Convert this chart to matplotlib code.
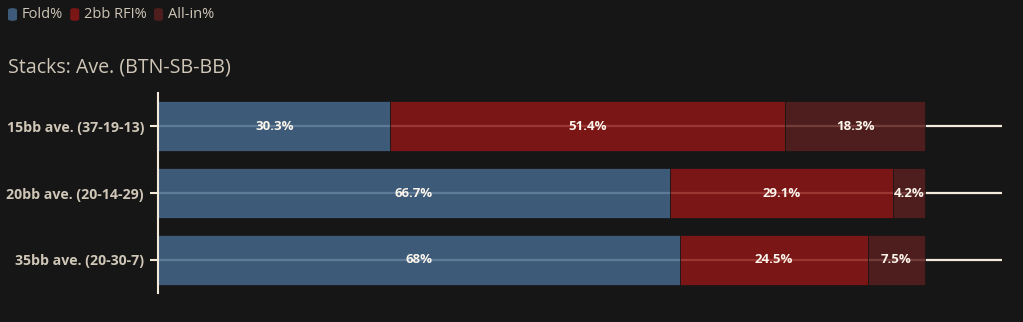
import matplotlib
matplotlib.use("Agg")
import matplotlib.pyplot as plt
from matplotlib.patches import FancyBboxPatch
import numpy as np

# Data
categories = ["15bb ave. (37-19-13)", "20bb ave. (20-14-29)", "35bb ave. (20-30-7)"]
series_names = ["Fold%", "2bb RFI%", "All-in%"]
fold = [30.3, 66.7, 68]
rfi = [51.4, 29.1, 24.5]
allin = [18.3, 4.2, 7.5]
title = "Stacks: Ave. (BTN-SB-BB)"

BG = "#161616"
CREAM = "#f3eadb"
TEXT = "#cfc6b7"
colors = ["#45678a", "#8c1616", "#591f1f"]
BAR_ALPHA = 0.85

plt.rcParams["font.family"] = ["Open Sans", "DejaVu Sans"]

fig = plt.figure(figsize=(10.23, 3.22), dpi=100, facecolor=BG)
ax = fig.add_axes([158 / 1023, 1 - 293 / 322, (1002 - 158) / 1023, (293 - 93) / 322])
ax.set_facecolor(BG)

y = np.arange(len(categories))

# Horizontal guide lines through each bar, seen through the translucent bars
for yi in y:
    ax.axhline(yi, color=CREAM, lw=1.6, zorder=1)

left = np.zeros(len(categories))
for vals, col in zip([fold, rfi, allin], colors):
    vals = np.array(vals, dtype=float)
    ax.barh(y, vals, left=left, height=0.75, color=col, alpha=BAR_ALPHA,
            edgecolor=BG, linewidth=0.6, zorder=2)
    for yi, l, v in zip(y, left, vals):
        ax.text(l + v / 2, yi, f"{v:g}%", ha="center", va="center",
                color="#fbf5ec", fontsize=9.5, fontweight="bold", zorder=3)
    left += vals

ax.set_xlim(0, 110)
ax.set_ylim(len(categories) - 0.5, -0.5)
ax.set_yticks(y)
ax.set_yticklabels(categories, color=TEXT, fontsize=10.2, fontweight="bold")
ax.tick_params(axis="y", length=6, width=1.5, color=CREAM, pad=4)
ax.tick_params(axis="x", bottom=False, labelbottom=False)
for s in ["top", "right", "bottom"]:
    ax.spines[s].set_visible(False)
ax.spines["left"].set_color(CREAM)
ax.spines["left"].set_linewidth(1.5)

fig.text(8 / 1023, 1 - 67 / 322, title, color=TEXT, fontsize=14.1,
         ha="left", va="center")

# Legend row at the top
x0 = 8
for name, col in zip(series_names, colors):
    box = FancyBboxPatch((x0 / 1023, 1 - 21 / 322), 9 / 1023, 13 / 322,
                         boxstyle="round,pad=0,rounding_size=0.006",
                         transform=fig.transFigure, facecolor=col,
                         edgecolor="none", alpha=BAR_ALPHA)
    fig.patches.append(box)
    t = fig.text((x0 + 14) / 1023, 1 - 14.5 / 322, name, color=TEXT,
                 fontsize=10.5, ha="left", va="center")
    fig.canvas.draw()
    bb = t.get_window_extent()
    x0 = bb.x1 + 7

fig.savefig("out.png", dpi=100, facecolor=BG)
